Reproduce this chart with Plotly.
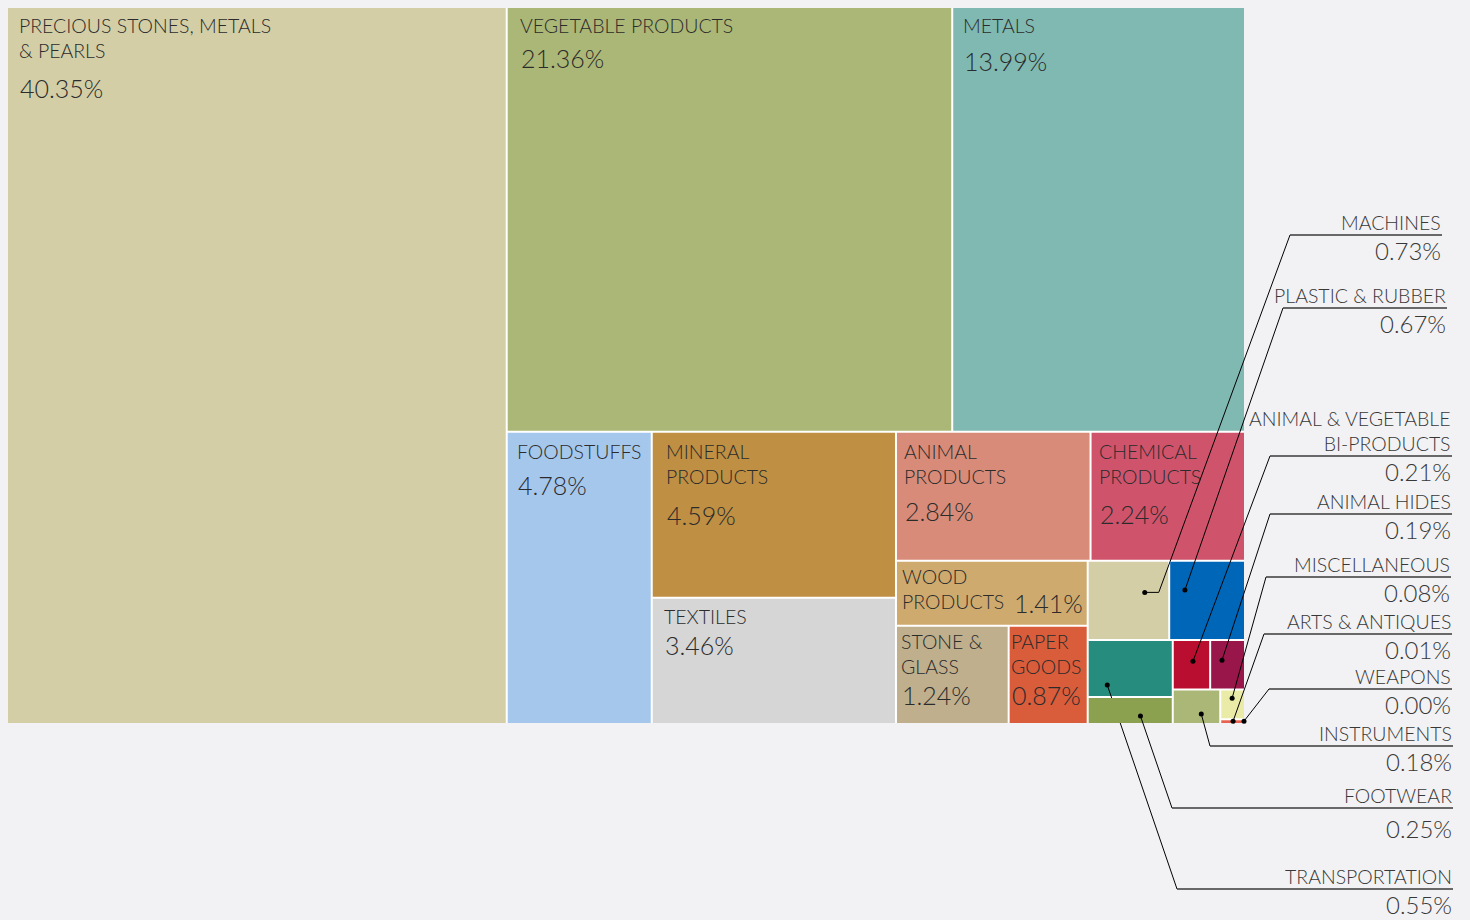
import plotly.graph_objects as go

# ---------------- data ----------------
CATEGORIES = [
    "Precious Stones, Metals & Pearls", "Vegetable Products", "Metals", "Foodstuffs",
    "Mineral Products", "Textiles", "Animal Products", "Chemical Products", "Wood Products",
    "Stone & Glass", "Paper Goods", "Machines", "Plastic & Rubber", "Transportation",
    "Footwear", "Animal & Vegetable Bi-Products", "Animal Hides", "Instruments",
    "Miscellaneous", "Arts & Antiques", "Weapons",
]
LABELS = [
    "PRECIOUS STONES, METALS<br>& PEARLS", "VEGETABLE PRODUCTS", "METALS", "FOODSTUFFS",
    "MINERAL<br>PRODUCTS", "TEXTILES", "ANIMAL<br>PRODUCTS", "CHEMICAL<br>PRODUCTS",
    "WOOD<br>PRODUCTS", "STONE &<br>GLASS", "PAPER<br>GOODS", "MACHINES", "PLASTIC & RUBBER",
    "TRANSPORTATION", "FOOTWEAR", "ANIMAL & VEGETABLE<br>BI-PRODUCTS", "ANIMAL HIDES",
    "INSTRUMENTS", "MISCELLANEOUS", "ARTS & ANTIQUES", "WEAPONS",
]
SHARES = [40.35, 21.36, 13.99, 4.78, 4.59, 3.46, 2.84, 2.24, 1.41, 1.24, 0.87,
          0.73, 0.67, 0.55, 0.25, 0.21, 0.19, 0.18, 0.08, 0.01, 0.00]
COLORS = ["#d3cea6", "#abb776", "#80b9b1", "#a6c7ec", "#bf8f43", "#d6d6d6", "#d98b79",
          "#cf546b", "#cfaa6f", "#bfaf8d", "#d95d3b", "#d3cea6", "#0066b8", "#268c7d",
          "#8ba150", "#b90e2f", "#99164b", "#abb776", "#ebeba8", "#e8634f", "#e8634f"]

# ---------------- layout / style ----------------
W, H = 1470, 920
BOX = (8, 8, 1244, 723)          # treemap extent in axis units (= pixels)
SPLIT_ASPECT = 1.27              # weight of height when choosing split direction
INSIDE_MIN = 0.8                 # shares below this get an outside callout
BG = "#f2f2f4"
GAP = 1.0
FONT = "Lato"
WEIGHT = 300
TXT = "#2b2b2b"
CO_TXT = "#383838"
LBL_SIZE, PCT_SIZE = 19.5, 25
CO_LBL_SIZE, CO_PCT_SIZE = 19.5, 24

INSIDE_STYLE = {
    "Precious Stones, Metals & Pearls": dict(pad=9, first=17, gap=37),
    "Vegetable Products": dict(pad=11, first=17, gap=33),
    "Metals": dict(pad=9, first=17, gap=36),
    "Foodstuffs": dict(pad=8, first=20, gap=33),
    "Mineral Products": dict(pad=12, first=19, gap=38),
    "Textiles": dict(pad=10, first=19, gap=28),
    "Animal Products": dict(pad=6, first=19, gap=34),
    "Chemical Products": dict(pad=6, first=19, gap=37),
    "Wood Products": dict(pad=4, first=15, inline=True),
    "Stone & Glass": dict(pad=3, first=15, gap=28),
    "Paper Goods": dict(pad=0, first=15, gap=28),
}
CALLOUTS = {
    "Machines": dict(uy=235, xs=1290, xe=1442, fx=0.70, fy=0.40, elbow=14),
    "Plastic & Rubber": dict(uy=308, xs=1283, xe=1447, fx=0.21, fy=0.37),
    "Animal & Vegetable Bi-Products": dict(uy=456, xs=1270, xe=1452, fx=0.54, fy=0.43),
    "Animal Hides": dict(uy=514, xs=1270, xe=1452, fx=0.35, fy=0.41),
    "Miscellaneous": dict(uy=577, xs=1266, xe=1451, fx=0.50, fy=0.29),
    "Arts & Antiques": dict(uy=634, xs=1264, xe=1452, fx=0.54, fy=0.50),
    "Weapons": dict(uy=689, xs=1269, xe=1452, fx=0.50, fy=0.50),
    "Instruments": dict(uy=746, xs=1210, xe=1453, fx=0.60, fy=0.73),
    "Footwear": dict(uy=808, xs=1172, xe=1453, fx=0.62, fy=0.73, pg=20),
    "Transportation": dict(uy=889, xs=1177, xe=1453, fx=0.23, fy=0.79),
}


def binary_treemap(values, x0, y0, x1, y1, aspect):
    """Binary treemap partition (as in d3.treemapBinary)."""
    n = len(values)
    sums = [0.0]
    for v in values:
        sums.append(sums[-1] + v)
    rects = [None] * n

    def part(i, j, value, x0, y0, x1, y1):
        if i >= j - 1:
            rects[i] = (x0, y0, x1, y1)
            return
        offset = sums[i]
        target = value / 2 + offset
        k, hi = i + 1, j - 1
        while k < hi:
            mid = (k + hi) // 2
            if sums[mid] < target:
                k = mid + 1
            else:
                hi = mid
        if (target - sums[k - 1]) < (sums[k] - target) and i + 1 < k:
            k -= 1
        vl = sums[k] - offset
        vr = value - vl
        if (x1 - x0) > (y1 - y0) * aspect:
            xk = (x0 * vr + x1 * vl) / value if value else x1
            part(i, k, vl, x0, y0, xk, y1)
            part(k, j, vr, xk, y0, x1, y1)
        else:
            yk = (y0 * vr + y1 * vl) / value if value else y1
            part(i, k, vl, x0, y0, x1, yk)
            part(k, j, vr, x0, yk, x1, y1)

    part(0, n, sums[n], x0, y0, x1, y1)
    return rects


rects = binary_treemap(SHARES, *BOX, SPLIT_ASPECT)

fig = go.Figure()
fig.add_shape(type="rect", xref="x", yref="y", x0=BOX[0], y0=BOX[1], x1=BOX[2], y1=BOX[3],
              fillcolor="white", line=dict(width=0), layer="below")


def inset(r):
    x0, y0, x1, y1 = r
    return (x0 + (GAP if x0 > BOX[0] + 0.5 else 0), y0 + (GAP if y0 > BOX[1] + 0.5 else 0),
            x1 - (GAP if x1 < BOX[2] - 0.5 else 0), y1 - (GAP if y1 < BOX[3] - 0.5 else 0))


def fnt(size, color):
    return dict(size=size, color=color, family=FONT, weight=WEIGHT)


annotations = []
for name, lab, v, col, r in zip(CATEGORIES, LABELS, SHARES, COLORS, rects):
    x0, y0, x1, y1 = r
    if v > 0:
        a0, b0, a1, b1 = inset(r)
        fig.add_trace(go.Scatter(
            x=[a0, a1, a1, a0, a0], y=[b0, b0, b1, b1, b0], mode="lines", fill="toself",
            fillcolor=col, line=dict(width=0, color=col), hoveron="fills",
            name=name, text=f"{name}: {v:.2f}%", hoverinfo="text", showlegend=False))
    pct = f"{v:.2f}%"
    if v >= INSIDE_MIN:
        st = INSIDE_STYLE[name]
        nlines = lab.count("<br>") + 1
        first = y0 + st["first"]
        annotations.append(dict(x=x0 + st["pad"], y=first + (nlines - 1) * 13, text=lab,
                                xanchor="left", yanchor="middle", showarrow=False, align="left",
                                font=fnt(LBL_SIZE, TXT)))
        last = first + (nlines - 1) * 26
        if st.get("inline"):
            annotations.append(dict(x=x1 - 3, y=last + 1, text=pct, xanchor="right",
                                    yanchor="middle", showarrow=False,
                                    font=fnt(PCT_SIZE, TXT)))
        else:
            annotations.append(dict(x=x0 + st["pad"] + 1, y=last + st["gap"], text=pct,
                                    xanchor="left", yanchor="middle", showarrow=False,
                                    font=fnt(PCT_SIZE, TXT)))
    else:
        c = CALLOUTS[name]
        dx = x0 + c["fx"] * (x1 - x0)
        dy = y0 + c["fy"] * (y1 - y0)
        px = [dx]
        py = [dy]
        if c.get("elbow"):
            px.append(dx + c["elbow"])
            py.append(dy)
        px.append(c["xs"])
        py.append(c["uy"])
        fig.add_trace(go.Scatter(x=px, y=py, mode="lines", line=dict(color="black", width=1),
                                 hoverinfo="skip", showlegend=False))
        fig.add_trace(go.Scatter(x=[c["xs"], c["xe"]], y=[c["uy"], c["uy"]], mode="lines",
                                 line=dict(color="#3a3a3a", width=1.5), hoverinfo="skip",
                                 showlegend=False))
        fig.add_trace(go.Scatter(x=[dx], y=[dy], mode="markers",
                                 marker=dict(color="black", size=5), hoverinfo="skip",
                                 showlegend=False))
        nlines = lab.count("<br>") + 1
        annotations.append(dict(x=c["xe"] + 1, y=c["uy"] - 12.5 - (nlines - 1) * 13, text=lab,
                                xanchor="right", yanchor="middle", showarrow=False, align="right",
                                font=fnt(CO_LBL_SIZE, CO_TXT)))
        annotations.append(dict(x=c["xe"] + 1, y=c["uy"] + c.get("pg", 15), text=pct,
                                xanchor="right", yanchor="middle", showarrow=False,
                                font=fnt(CO_PCT_SIZE, CO_TXT)))

fig.update_layout(
    width=W, height=H, margin=dict(l=0, r=0, t=0, b=0),
    paper_bgcolor=BG, plot_bgcolor=BG,
    xaxis=dict(range=[0, W], visible=False, fixedrange=True),
    yaxis=dict(range=[H, 0], visible=False, fixedrange=True),
    annotations=annotations, showlegend=False,
)
fig.write_html("out.html", config={"displayModeBar": False},
               post_script="document.body.style.margin='0';document.body.style.overflow='hidden';")
